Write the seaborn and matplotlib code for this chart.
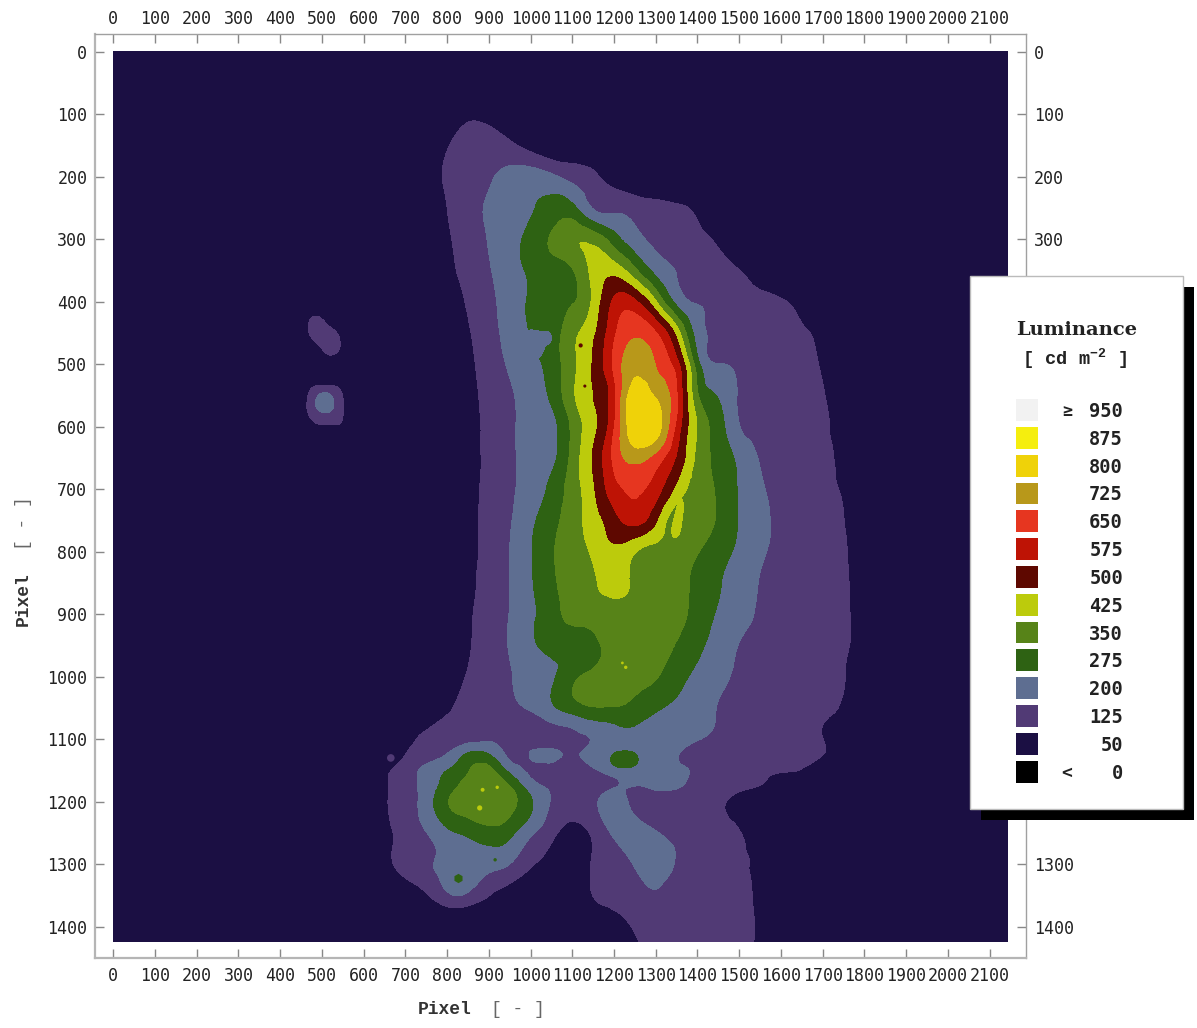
import numpy as np
import seaborn as sns
import matplotlib.pyplot as plt
import matplotlib.tri as mtri
from matplotlib.colors import ListedColormap
from matplotlib.patches import Rectangle

sns.set_style('ticks')
plt.rcParams['font.family'] = ['DejaVu Sans Mono']
plt.rcParams['mathtext.fontset'] = 'custom'
plt.rcParams['mathtext.rm'] = 'Liberation Mono:bold'
plt.rcParams['mathtext.bf'] = 'Liberation Mono:bold'

# legend, top to bottom
legend_labels = ['950', '875', '800', '725', '650', '575', '500', '425', '350', '275', '200', '125', '50', '0']
legend_colors = ['#F2F2F2', '#F5EE0E', '#EFD209', '#B8981A', '#E63620', '#BE1305', '#5E0800',
                 '#BCCB0C', '#578318', '#2E6213', '#5E6E91', '#513A75', '#1B0F43', '#000000']
band_edges = [0, 125, 200, 275, 350, 425, 500, 575, 650, 725, 800, 875, 950, 1100]

BG = 60
x_nodes = [0, 600] + list(range(650, 1851, 50)) + [2144]
y_nodes = [0, 50] + list(range(100, 1101, 50)) + [1125, 1150, 1175, 1200, 1250, 1300, 1350, 1400, 1423]

# luminance, columns x = 650..1800, rows y = 100..1423
luminance = [
    [60,60,60,75,108,100,85,60,60,60,60,60,60,60,60,60,60,60,60,60,60,60,60,60],
    [60,60,77,119,160,165,139,97,60,60,60,60,60,60,60,60,60,60,60,60,60,60,60,60],
    [60,60,91,133,161,191,225,240,215,177,138,97,70,60,60,60,60,60,60,60,60,60,60,60],
    [60,60,83,125,169,209,239,269,300,295,195,182,166,150,135,109,67,60,60,60,60,60,60,60],
    [60,60,73,115,159,204,248,299,360,415,400,310,226,186,164,141,113,73,60,60,60,60,60,60],
    [60,60,60,103,147,193,245,288,320,345,450,470,368,251,198,173,149,126,85,60,60,60,60,60],
    [60,60,60,89,132,181,235,284,314,343,442,590,590,433,252,196,180,164,148,132,101,60,60,60],
    [60,60,60,75,117,172,227,278,313,400,484,636,712,655,470,240,190,176,161,147,132,103,60,60],
    [60,60,60,65,107,157,211,255,305,405,507,665,775,722,606,304,202,186,170,154,139,119,77,60],
    [60,60,60,60,101,144,188,235,290,410,500,631,850,790,658,360,270,193,178,160,144,128,91,60],
    [60,60,60,60,97,140,185,223,250,365,479,645,870,850,629,420,305,203,184,167,150,132,101,60],
    [60,60,60,60,97,140,185,221,253,374,507,667,750,695,566,406,327,255,195,176,156,136,107,60],
    [60,60,60,60,99,142,185,234,294,385,489,620,660,610,478,392,339,267,208,182,162,142,117,75],
    [60,60,60,60,101,145,193,259,321,392,464,545,600,510,375,375,339,270,217,187,167,146,126,85],
    [60,60,60,60,101,147,200,268,340,389,440,487,430,402,377,353,305,259,211,186,167,149,130,95],
    [60,60,60,60,105,151,200,266,336,379,416,445,414,397,368,337,283,239,197,181,164,148,131,99],
    [60,60,60,60,111,156,202,262,315,375,385,400,395,385,375,320,266,223,193,177,162,147,132,101],
    [60,60,60,75,117,160,205,258,295,300,330,375,380,375,345,292,243,198,186,172,158,144,131,99],
    [60,60,60,89,130,163,195,229,262,330,370,375,370,355,305,256,216,192,179,166,153,140,127,91],
    [60,60,73,115,141,162,183,210,260,310,345,345,320,285,258,227,198,187,174,161,148,135,117,75],
    [60,100,141,165,175,190,170,165,170,180,205,240,262,250,225,203,189,177,164,151,138,126,85,60],
    [60,125,165,205,290,280,185,203,215,195,225,250,255,240,204,180,172,165,155,145,133,126,75,60],
    [107,161,221,275,345,370,254,190,170,165,190,215,225,222,212,190,177,165,150,133,120,75,60,60],
    [112,165,228,310,380,395,350,235,185,165,175,198,200,210,208,170,160,145,122,60,60,60,60,60],
    [113,170,235,345,390,410,380,285,195,165,190,215,185,170,160,150,135,100,60,60,60,60,60,60],
    [103,148,198,255,290,320,295,215,145,95,140,210,225,205,180,165,150,131,60,60,60,60,60,60],
    [107,146,190,215,235,225,200,135,90,60,133,165,205,225,195,160,150,137,105,60,60,60,60,60],
    [60,80,117,185,185,127,85,60,60,60,127,145,165,192,170,165,155,145,105,60,60,60,60,60],
    [60,60,60,40,30,60,60,60,60,60,60,90,132,150,160,160,155,145,111,60,60,60,60,60],
    [60,60,60,60,60,60,60,60,60,60,60,60,115,150,160,160,155,145,110,60,60,60,60,60],
]

# small separate blobs left of the main patch
blob_a_x = [460, 490, 520, 550]
blob_a_y = [410, 430, 450, 470, 490]
blob_a = [[90, 90, 90, 90], [105, 140, 100, 90], [100, 160, 150, 100], [90, 120, 160, 110], [90, 90, 110, 90]]
blob_b_x = [460, 480, 500, 520, 540, 560]
blob_b_y = [530, 550, 570, 590, 610]
blob_b = [[90, 100, 100, 100, 100, 90], [100, 170, 215, 205, 150, 100], [110, 180, 220, 215, 160, 100],
          [90, 130, 150, 150, 140, 90], [80, 80, 80, 80, 80, 80]]
# thin 425 streak right of the core
streak_x = [1320, 1340, 1360, 1380, 1400]
streak_y = [680, 720, 760, 800]
streak = [[300, 300, 300, 440, 300], [300, 300, 440, 300, 300], [300, 430, 430, 300, 300], [300, 300, 300, 300, 300]]
# 200 pocket inside the 275 band
pocket_x = [980, 1000, 1020, 1040, 1060]
pocket_y = [440, 460, 480, 500, 520]
pocket = [[300, 290, 290, 300, 300], [300, 250, 250, 260, 300], [300, 250, 250, 300, 300],
          [285, 265, 300, 300, 300], [300, 300, 300, 300, 300]]
# 275 ellipse below the main patch
oval_x = [1180, 1210, 1240, 1270]
oval_y = [1110, 1132, 1155]
oval = [[250, 250, 250, 250], [260, 290, 290, 260], [250, 250, 250, 250]]
# single pixel clusters
speck_x = [878, 885, 920, 1220, 1228, 915, 1130, 1120, 665]
speck_y = [1210, 1181, 1177, 978, 985, 1293, 535, 470, 1130]
speck_size = [14, 8, 6, 4, 6, 6, 5, 9, 30]
speck_color = ['#BCCB0C', '#BCCB0C', '#BCCB0C', '#BCCB0C', '#BCCB0C', '#2E6213', '#5E0800', '#5E0800', '#513A75']
spot_x = [826]
spot_y = [1322]

xticks = list(range(0, 2101, 100))
yticks = list(range(0, 1401, 100))


def smooth_bands(ax, xs, ys, zs, levels, colors):
    # cubic refinement so the bands do not show the grid
    xx, yy = np.meshgrid(xs, ys)
    tri = mtri.Triangulation(xx.ravel(), yy.ravel())
    tri2, z2 = mtri.UniformTriRefiner(tri).refine_field(np.asarray(zs, dtype=float).ravel(), subdiv=3)
    ax.tricontourf(tri2, np.clip(z2, 1, 874), levels=levels, colors=colors)


W, H = 1197, 1028
fig = plt.figure(figsize=(W / 100, H / 100), dpi=100)
ax = fig.add_axes([95 / W, 1 - 958.3 / H, 931.3 / W, 924.6 / H])

band_colors = legend_colors[::-1][1:]
z = np.pad(np.array(luminance, dtype=float), ((2, 0), (2, 2)), constant_values=BG)
smooth_bands(ax, x_nodes, y_nodes, z, band_edges, band_colors)
smooth_bands(ax, blob_a_x, blob_a_y, blob_a, [125, 200], [band_colors[1]])
smooth_bands(ax, blob_b_x, blob_b_y, blob_b, [125, 200, 275], band_colors[1:3])
smooth_bands(ax, streak_x, streak_y, streak, [425, 500], [band_colors[5]])
smooth_bands(ax, pocket_x, pocket_y, pocket, [200, 275], [band_colors[2]])
smooth_bands(ax, oval_x, oval_y, oval, [275, 350], [band_colors[3]])
ax.scatter(speck_x, speck_y, s=speck_size, c=speck_color, linewidths=0, zorder=3)
ax.scatter(spot_x, spot_y, s=45, c='#2E6213', marker='h', linewidths=0, zorder=3)

ax.set_xlim(-43.9, 2188)
ax.set_ylim(1450.6, -28.8)
ax.set_xticks(xticks)
ax.set_yticks(yticks)
ax.tick_params(axis='both', direction='in', length=6.5, width=1, color='#888888', labelsize=12,
               labelcolor='#222222', top=True, right=True, labeltop=True, labelright=True)
ax.tick_params(axis='x', which='major', pad=4)
ax.tick_params(axis='y', which='major', pad=5.5)
for t in ax.xaxis.get_major_ticks():
    t.label1.set_y(-0.0035)
# the panel covers the right hand labels from 400 to 1200
for t, v in zip(ax.yaxis.get_major_ticks(), yticks):
    if 350 < v < 1250:
        t.label2.set_visible(False)
for side, lw, col in [('left', 1.6, '#B5B5B5'), ('bottom', 1.6, '#B5B5B5'), ('top', 1.0, '#A0A0A0'), ('right', 1.0, '#A0A0A0')]:
    ax.spines[side].set_linewidth(lw)
    ax.spines[side].set_color(col)

# axis labels
fig.text(445 / W, 1 - 1010 / H, 'Pixel', family='Liberation Mono', weight='bold', fontsize=13,
         color='#333333', ha='center', va='center')
fig.text(518 / W, 1 - 1010 / H, '[ - ]', family='Liberation Mono', fontsize=13, color='#666666',
         ha='center', va='center')
fig.text(23 / W, 1 - 599 / H, 'Pixel', family='Liberation Mono', weight='bold', fontsize=13,
         color='#333333', rotation=90, ha='center', va='center')
fig.text(23 / W, 1 - 523 / H, '[ - ]', family='Liberation Mono', fontsize=13, color='#666666',
         rotation=90, ha='center', va='center')

# legend panel with its hard shadow
fig.add_artist(Rectangle((981 / W, 1 - 820 / H), 213.3 / W, 533.3 / H, transform=fig.transFigure,
                         facecolor='black', edgecolor='none', zorder=5))
fig.add_artist(Rectangle((970.3 / W, 1 - 809.3 / H), 213 / W, 533.6 / H, transform=fig.transFigure,
                         facecolor='white', edgecolor='#BBBBBB', linewidth=1, zorder=6))

sw = fig.add_axes([1013 / W, 1 - 785.5 / H, 28 / W, 389.4 / H], zorder=7)
sns.heatmap(np.arange(len(legend_colors))[:, None], ax=sw, cmap=ListedColormap(legend_colors), cbar=False,
            linewidths=3.2, linecolor='white', xticklabels=False, yticklabels=False)
sw.tick_params(left=False, bottom=False)

fig.text(1077 / W, 1 - 330 / H, 'Luminance', family='DejaVu Serif', weight='bold', fontsize=14,
         color='#222222', ha='center', va='center', zorder=8)
fig.text(1075 / W, 1 - 359 / H, r'[ cd m$^{\mathbf{-2}}$ ]', family='Liberation Mono', weight='bold',
         fontsize=13.5, color='#222222', ha='center', va='center', zorder=8)
for i, lab in enumerate(legend_labels):
    yy = 1 - (411.5 + 27.82 * i) / H
    fig.text(1123 / W, yy, lab, family='DejaVu Sans Mono', weight='bold', fontsize=13.5, color='#222222',
             ha='right', va='center', zorder=8)
fig.text(1067 / W, 1 - 411.5 / H, '≥', family='DejaVu Sans Mono', weight='bold', fontsize=12, color='#222222',
         ha='center', va='center', zorder=8)
fig.text(1067 / W, 1 - 773 / H, '<', family='DejaVu Sans Mono', weight='bold', fontsize=13, color='#222222',
         ha='center', va='center', zorder=8)

fig.savefig('out.png', dpi=100)
